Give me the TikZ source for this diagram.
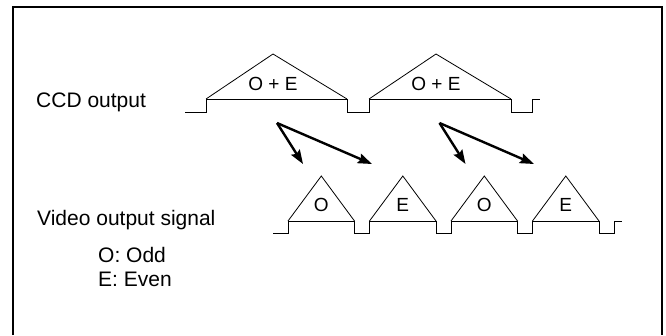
\documentclass[tikz,border=0pt]{standalone}
\usepackage{fontspec}
\setmainfont{Liberation Sans}
\usetikzlibrary{arrows.meta}

\begin{document}
\begin{tikzpicture}[x=1pt,y=-1pt,
  wave/.style={line width=0.8pt},
  lbl/.style={anchor=base west,inner sep=0pt,font=\fontsize{21}{25}\selectfont},
  trilbl/.style={anchor=base,inner sep=0pt,font=\fontsize{19}{21}\selectfont},
  split/.style={-{Stealth[length=14pt,width=10pt,inset=2pt]},line width=2.4pt}]
\useasboundingbox (0,0) rectangle (666,335);
\draw[line width=2pt] (13,335) -- (13,7) -- (662,7) -- (662,335);
% CCD output
\draw[wave] (185,112) -- (206,112) -- (206,99) -- (347,99) -- (347,112) -- (369,112)
  -- (369,99) -- (511,99) -- (511,112) -- (532,112) -- (532,99) -- (540,99);
\draw[wave] (206,99) -- (273,54) -- (347,99);
\draw[wave] (369,99) -- (436,54) -- (511,99);
\node[trilbl] (oe1) at (273,90) {O + E};
\node[trilbl] (oe2) at (436,90) {O + E};
% video output
\draw[wave] (273,233) -- (288,233) -- (288,221) -- (354.5,221) -- (354.5,233) -- (369.5,233)
  -- (369.5,221) -- (436,221) -- (436,233) -- (451,233) -- (451,221) -- (517.5,221)
  -- (517.5,233) -- (532.5,233) -- (532.5,221) -- (599,221) -- (599,233) -- (614,233)
  -- (614,221) -- (622,221);
\foreach \r/\t [count=\i] in {288/O,369.5/E,451/O,532.5/E} {
  \draw[wave] (\r,221) -- (\r+33.3,176) -- (\r+66.5,221);
  \node[trilbl] (v\i) at (\r+33.3,211) {\t};
}
% arrows
\coordinate (s1) at (277,123);
\coordinate (s2) at (439.5,123);
\coordinate (e1) at (303,164);
\coordinate (e2) at (372,164);
\coordinate (e3) at (465.5,164);
\coordinate (e4) at (534,164);
\draw[split] (s1) -- (e1);
\draw[split] (s1) -- (e2);
\draw[split] (s2) -- (e3);
\draw[split] (s2) -- (e4);
% labels
\node[lbl] (ccd) at (36,107) {CCD output};
\node[lbl] (vid) at (37,225) {Video output signal};
\node[lbl] (odd) at (98,262) {O: Odd};
\node[lbl] (even) at (98,286) {E: Even};
\end{tikzpicture}
\end{document}
